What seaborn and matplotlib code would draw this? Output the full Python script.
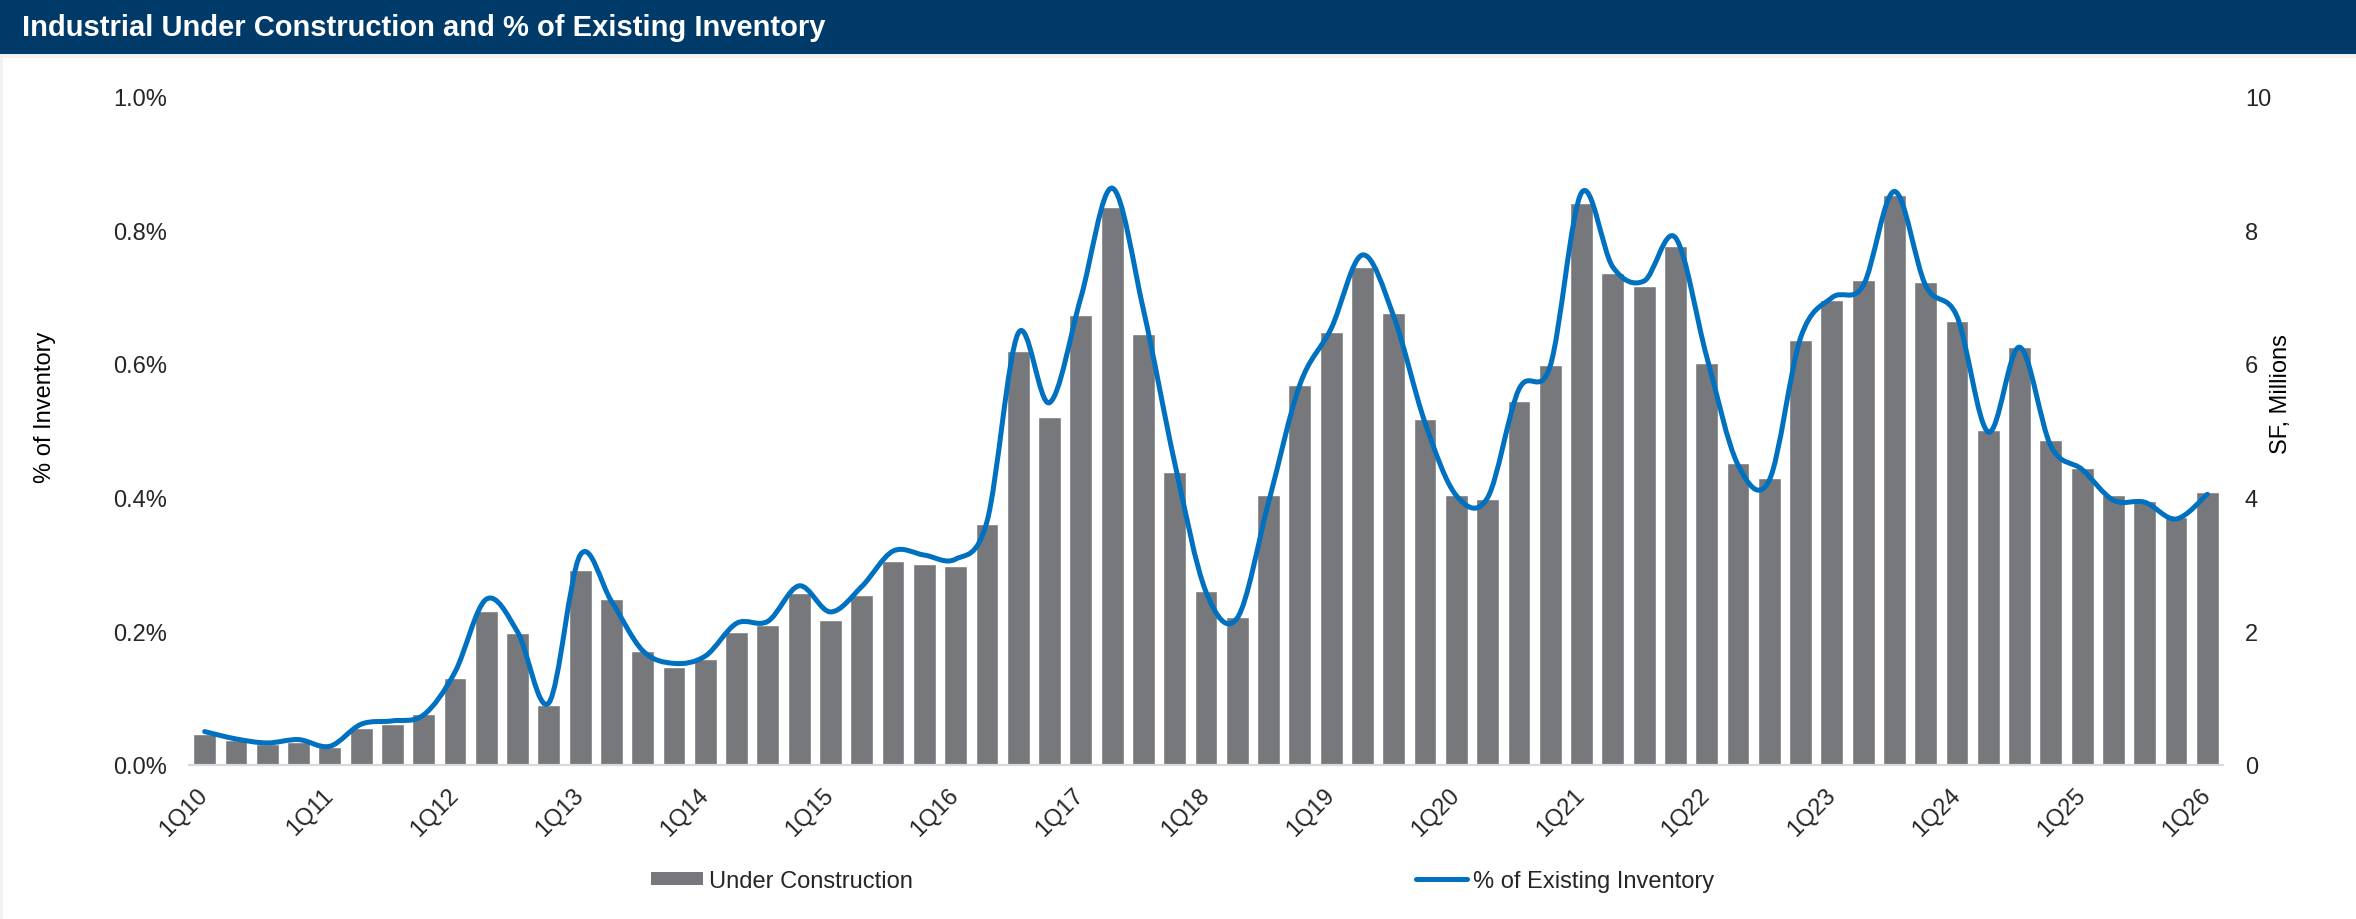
import numpy as np
import pandas as pd
import matplotlib
matplotlib.use("Agg")
import matplotlib.pyplot as plt
import seaborn as sns
from matplotlib.path import Path
from matplotlib.patches import PathPatch, Rectangle, Patch
from matplotlib.lines import Line2D
from matplotlib.ticker import FuncFormatter, MultipleLocator

# ---------------- data ----------------
quarters = [f"{q}Q{y:02d}" for y in range(10, 27) for q in range(1, 5)][:65]

under_construction = [  # SF, millions
    0.47, 0.37, 0.31, 0.35, 0.27, 0.55, 0.61, 0.77, 1.30, 2.30,
    1.97, 0.90, 2.92, 2.49, 1.71, 1.46, 1.59, 1.99, 2.09, 2.57,
    2.17, 2.54, 3.05, 3.00, 2.97, 3.61, 6.19, 5.20, 6.73, 8.34,
    6.44, 4.38, 2.61, 2.21, 4.04, 5.69, 6.48, 7.45, 6.76, 5.17,
    4.04, 3.98, 5.44, 5.98, 8.41, 7.36, 7.16, 7.76, 6.01, 4.52,
    4.29, 6.36, 6.95, 7.25, 8.53, 7.22, 6.64, 5.01, 6.26, 4.86,
    4.45, 4.04, 3.95, 3.71, 4.09,
]

pct_inventory = [  # % of existing inventory
    0.050, 0.039, 0.033, 0.038, 0.028, 0.061, 0.066, 0.075, 0.139, 0.248,
    0.199, 0.093, 0.314, 0.245, 0.171, 0.152, 0.163, 0.212, 0.215, 0.268,
    0.229, 0.267, 0.320, 0.314, 0.308, 0.364, 0.646, 0.542, 0.699, 0.863,
    0.681, 0.452, 0.259, 0.220, 0.393, 0.569, 0.653, 0.763, 0.671, 0.512,
    0.403, 0.400, 0.562, 0.597, 0.856, 0.745, 0.724, 0.789, 0.611, 0.449,
    0.426, 0.639, 0.699, 0.717, 0.858, 0.717, 0.671, 0.498, 0.625, 0.477,
    0.442, 0.396, 0.393, 0.368, 0.405,
]

tick_labels = [f"1Q{y:02d}" for y in range(10, 27)]

title = "Industrial Under Construction and % of Existing Inventory"
bar_label = "Under Construction"
line_label = "% of Existing Inventory"

# ---------------- style ----------------
BAR_COLOR = "#77787B"
LINE_COLOR = "#0070C0"
NAVY = "#003A68"
FS = 17

sns.set_theme(style="white")
plt.rcParams["font.family"] = ["Liberation Sans", "DejaVu Sans"]

W, H = 2356, 920
fig = plt.figure(figsize=(W / 100, H / 100), dpi=100)
fig.patch.set_facecolor("white")

left_px, right_px, bottom_px, top_px = 189, 2223, 766, 97.5
ax = fig.add_axes([left_px / W, 1 - bottom_px / H,
                   (right_px - left_px) / W, (bottom_px - top_px) / H])

df = pd.DataFrame({"quarter": quarters, "uc": under_construction})
sns.barplot(data=df, x="quarter", y="uc", order=quarters, color=BAR_COLOR,
            saturation=1, width=0.73, ax=ax, zorder=2)

ax2 = ax.twinx()

# bars axis -> right
ax.set_xlim(-0.5, len(quarters) - 0.5)
ax.set_ylim(0, 10)
ax.yaxis.set_major_locator(MultipleLocator(2))
ax.yaxis.tick_right()
ax.yaxis.set_label_position("right")
ax.set_ylabel("SF, Millions", fontsize=FS, color="black")
ax.yaxis.label.set(ha="center", va="center", rotation=90, rotation_mode="anchor")
ax.yaxis.set_label_coords(1.0285, 0.556)
ax.set_xlabel("")

# line axis -> left
ax2.set_ylim(0, 1.0)
ax2.yaxis.set_major_locator(MultipleLocator(0.2))
ax2.yaxis.set_major_formatter(FuncFormatter(lambda v, p: f"{v:.1f}%"))
ax2.yaxis.tick_left()
ax2.yaxis.set_label_position("left")
ax2.set_ylabel("% of Inventory", fontsize=FS, color="black")
ax2.yaxis.label.set(ha="center", va="center", rotation=90, rotation_mode="anchor")
ax2.yaxis.set_label_coords(-0.0708, 0.537)

# smoothed line (Excel-style Bezier through the data points)
xs = np.arange(len(pct_inventory), dtype=float)
ys = np.array(pct_inventory, dtype=float)
verts = [(xs[0], ys[0])]
codes = [Path.MOVETO]
n = len(xs)
for i in range(n - 1):
    p0 = np.array([xs[max(i - 1, 0)], ys[max(i - 1, 0)]])
    p1 = np.array([xs[i], ys[i]])
    p2 = np.array([xs[i + 1], ys[i + 1]])
    p3 = np.array([xs[min(i + 2, n - 1)], ys[min(i + 2, n - 1)]])
    c1 = p1 + (p2 - p0) / 6.0
    c2 = p2 - (p3 - p1) / 6.0
    verts += [tuple(c1), tuple(c2), tuple(p2)]
    codes += [Path.CURVE4] * 3
path = Path(verts, codes)
ax2.add_patch(PathPatch(path, fill=False, edgecolor=LINE_COLOR, lw=3.6,
                        capstyle="round", joinstyle="round", zorder=3))

# ticks
ax.set_xticks(range(0, len(quarters), 4))
ax.set_xticklabels(tick_labels, rotation=45, ha="right", va="center",
                   rotation_mode="anchor", fontsize=FS)
ax.tick_params(axis="x", length=0, pad=19)
ax.tick_params(axis="y", length=0, pad=15.8, labelsize=FS, right=False)
ax2.tick_params(axis="y", length=0, pad=15.8, labelsize=FS)
for a in (ax, ax2):
    for s in ("top", "left", "right"):
        a.spines[s].set_visible(False)
    a.grid(False)
ax.spines["bottom"].set_color("#D9D9D9")
ax.spines["bottom"].set_linewidth(1.6)
ax2.spines["bottom"].set_visible(False)
ax.set_facecolor("none")
ax2.set_facecolor("none")

# legend
handles = [Patch(facecolor=BAR_COLOR, edgecolor="none"),
           Line2D([], [], color=LINE_COLOR, lw=3.6, solid_capstyle="round")]
fig.legend(handles, [bar_label, line_label], loc="center",
           bbox_to_anchor=(0.502, 1 - 882 / H), ncol=2, frameon=False,
           fontsize=FS, columnspacing=21.3, handlelength=2.2,
           handletextpad=0.25, handleheight=0.5)

# header band and frame
fig.add_artist(Rectangle((0, 1 - 55 / H), 1, 55 / H, transform=fig.transFigure,
                         facecolor=NAVY, edgecolor="none", zorder=0))
fig.add_artist(Rectangle((0, 1 - 59 / H), 1, 4 / H, transform=fig.transFigure,
                         facecolor="#F2F2F2", edgecolor="none", zorder=0))
fig.add_artist(Rectangle((0, 0), 3 / W, 1 - 55 / H, transform=fig.transFigure,
                         facecolor="#F2F2F2", edgecolor="none", zorder=0))
fig.text(22 / W, 1 - 28 / H, title, color="white", fontsize=21,
         fontweight="bold", ha="left", va="center")

fig.savefig("out.png", dpi=100, facecolor="white")
